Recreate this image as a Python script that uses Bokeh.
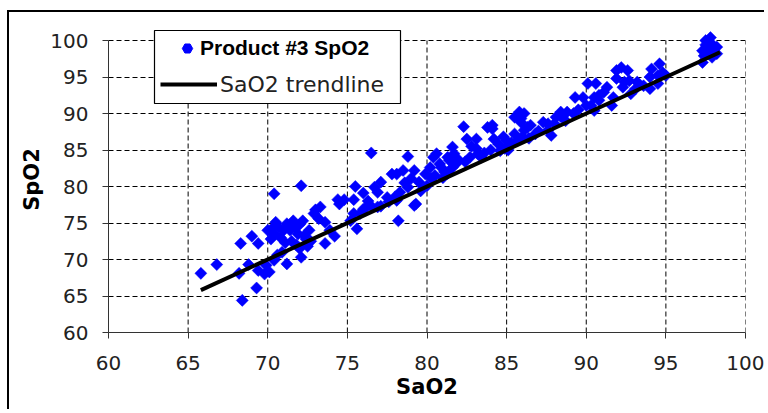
from bokeh.plotting import figure
from bokeh.models import FixedTicker, Legend, LegendItem, BoxAnnotation, Range1d
from bokeh.embed import file_html
from bokeh.resources import INLINE
import math

sao2 = [65.8, 66.8, 68.4, 68.3, 69.0, 69.4, 68.2, 68.8, 69.3, 69.4, 69.8, 69.9, 70.0, 70.1,
        70.5, 70.4, 70.6, 71.2, 71.0, 71.2, 71.6, 71.9, 72.1, 70.4, 72.1, 70.4, 70.8, 71.5,
        71.8, 72.0, 70.2, 70.9, 70.3, 71.4, 71.7, 72.0, 70.7, 71.1, 72.3,
        72.4, 72.6, 72.9, 73.3, 73.6, 73.6, 74.2, 72.5, 72.7, 73.0, 73.2, 72.2, 74.4, 74.8,
        74.5, 73.9,
        75.4, 75.2, 75.6, 75.8, 76.2, 76.9, 75.5, 76.0, 76.7, 77.1, 76.9, 76.0, 76.5, 77.1,
        75.4, 76.5, 77.6, 77.8, 77.5, 76.3,
        78.2, 79.2, 78.1, 78.8, 78.1, 78.5, 79.2, 79.0, 78.8, 78.3, 78.0, 79.5, 79.9, 79.3,
        78.6, 79.6, 80.0,
        80.2, 80.4, 80.6, 80.8, 81.1, 80.3, 81.3, 81.6, 81.7, 81.9, 81.6, 81.4, 82.0, 80.5,
        81.0, 80.9, 81.3,
        82.3, 82.5, 83.1, 82.7, 83.1, 83.2, 83.8, 82.8, 83.4, 84.1, 84.2, 84.5, 84.9, 85.1,
        84.8, 85.0, 84.1, 83.6, 84.0, 84.6, 82.4,
        85.8, 85.9, 85.5, 86.3, 85.9, 85.5, 86.1, 86.5, 86.8, 87.3, 87.6, 87.8, 86.1, 85.7,
        86.0, 86.4, 87.0, 85.3,
        88.1, 88.4, 88.8, 88.7, 89.3, 89.8, 90.0, 88.4, 88.0, 87.6, 89.2, 89.5,
        90.1, 90.6, 90.5, 90.3, 90.8, 91.1, 91.3, 91.9, 92.6, 91.9, 92.4, 92.7, 91.7, 91.6,
        92.8, 93.1, 90.8, 90.5, 92.2, 92.3,
        94.1, 94.6, 94.0, 94.5, 95.0, 94.0, 94.5, 93.2, 94.8, 93.6,
        97.5, 97.9, 98.2, 97.3, 97.4, 97.3, 97.9, 97.6, 97.8, 98.0, 97.7, 98.2, 97.5]

spo2 = [68.1, 69.3, 64.4, 72.2, 73.2, 72.2, 68.1, 69.3, 66.1, 68.5, 68.0, 69.2, 74.0, 68.3,
        75.1, 69.9, 70.6, 69.4, 74.0, 74.9, 75.3, 73.5, 70.3, 79.0, 80.1, 73.5, 73.0, 72.5,
        72.0, 71.5, 72.8, 71.0, 74.3, 74.0, 74.5, 74.8, 74.4, 72.3, 73.3,
        72.8, 74.0, 76.3, 77.2, 75.1, 72.2, 73.2, 71.8, 72.5, 76.8, 75.6, 75.3, 78.2, 78.2,
        77.6, 74.0,
        78.2, 75.3, 74.2, 76.3, 77.2, 77.2, 80.0, 79.1, 79.9, 80.6, 79.2, 76.9, 77.3, 77.3,
        76.3, 84.6, 77.9, 81.7, 78.5, 78.0,
        75.3, 77.4, 78.1, 84.1, 81.7, 82.2, 82.2, 81.1, 79.9, 79.2, 78.6, 80.6, 81.7, 77.6,
        80.5, 79.4, 80.1,
        82.6, 84.0, 84.5, 83.1, 82.0, 81.1, 84.0, 85.4, 84.5, 83.3, 82.6, 83.6, 83.6, 81.5,
        81.2, 82.6, 81.8,
        88.2, 86.5, 86.5, 84.0, 85.2, 84.5, 88.1, 85.5, 84.0, 88.4, 86.5, 85.8, 85.2, 85.0,
        86.8, 86.3, 87.9, 84.6, 85.0, 84.9, 83.4,
        90.2, 89.3, 89.5, 88.1, 88.8, 87.2, 87.7, 88.4, 87.2, 88.8, 87.7, 87.0, 90.0, 86.3,
        86.8, 86.6, 87.6, 86.0,
        89.5, 90.2, 90.2, 89.0, 92.2, 92.2, 91.1, 89.6, 88.6, 88.6, 90.0, 90.5,
        94.1, 94.1, 92.2, 91.1, 91.8, 92.9, 93.6, 95.9, 95.9, 94.8, 94.3, 94.5, 92.2, 91.1,
        92.7, 93.4, 92.5, 90.4, 96.3, 93.6,
        96.1, 96.8, 95.0, 95.2, 95.2, 93.4, 94.1, 94.3, 95.6, 93.8,
        100.0, 99.5, 99.1, 98.6, 97.9, 97.0, 97.7, 99.1, 100.4, 98.6, 98.2, 98.2, 99.4]

trend_sao2 = [65.8, 98.4]
trend_line = [65.8, 98.4]

x_ticks = [60, 65, 70, 75, 80, 85, 90, 95, 100]
y_ticks = [60, 65, 70, 75, 80, 85, 90, 95, 100]

# y range extended a little above 100 so the legend box (which sits above the
# 100 gridline in the reference) is not clipped by the frame
p = figure(width=757, height=399, x_range=Range1d(60, 100), y_range=Range1d(60, 101.92),
           output_backend="svg", toolbar_location=None,
           min_border_left=99, min_border_right=21, min_border_top=14, min_border_bottom=79)
p.styles = {"margin-left": "7px", "margin-top": "10px",
            "border-top": "2px solid black", "border-left": "2px solid black"}
p.outline_line_color = None
p.background_fill_color = "white"
p.border_fill_color = "white"

# vertical dashed gridlines limited to the 60..100 value span
p.segment(x0=x_ticks, y0=y_ticks[0], x1=x_ticks, y1=y_ticks[-1],
          line_color="black", line_width=1, line_dash="5 3", level="underlay")

pts = p.scatter(sao2, spo2, marker="square", size=8.5, angle=math.pi / 4,
                fill_color="#0000ff", line_color="#0000ff", line_width=0.5)
trend = p.line(trend_sao2, trend_line, line_width=4, line_color="black")
# hidden twin of the data series, used only for its legend symbol
proxy = p.scatter(sao2, spo2, marker="hex", fill_color="#0000ff", line_color="#0000ff",
                  visible=False)

for ax in (p.xaxis[0], p.yaxis[0]):
    ax.major_tick_in = 0
    ax.major_tick_out = 6
    ax.minor_tick_in = 0
    ax.minor_tick_out = 0
    ax.axis_line_color = "#333333"
    ax.major_tick_line_color = "#333333"
    ax.major_label_text_font = "DejaVu Sans"
    ax.major_label_text_font_size = "20px"
    ax.major_label_text_color = "#222222"
    ax.axis_label_text_font = "DejaVu Sans"
    ax.axis_label_text_font_style = "bold"
    ax.axis_label_text_font_size = "21px"
    ax.axis_label_text_color = "black"

p.xaxis.ticker = FixedTicker(ticks=x_ticks)
p.yaxis.ticker = FixedTicker(ticks=y_ticks)
p.yaxis.bounds = (y_ticks[0], y_ticks[-1])
p.xgrid.visible = False
p.ygrid.ticker = FixedTicker(ticks=y_ticks)
p.ygrid.grid_line_color = "black"
p.ygrid.grid_line_dash = "5 3"
p.ygrid.grid_line_width = 1
p.xaxis.axis_label = "SaO2"
p.yaxis.axis_label = "SpO2"
p.xaxis.major_label_standoff = 17
p.yaxis.major_label_standoff = 14
p.xaxis.axis_label_standoff = 2
p.yaxis.axis_label_standoff = 3

box = BoxAnnotation(left=143, right=389, top=16, bottom=89,
                    left_units="canvas", right_units="canvas",
                    top_units="canvas", bottom_units="canvas",
                    fill_color="white", fill_alpha=1.0,
                    line_color="black", line_width=1.2, line_alpha=1.0)
p.add_layout(box)

leg_a = Legend(items=[LegendItem(label="Product #3 SpO2", renderers=[proxy])],
               location=(66, 271), padding=0, spacing=0, margin=0,
               glyph_width=26, glyph_height=26, label_height=26, label_standoff=0,
               border_line_color=None, background_fill_alpha=0, inactive_fill_alpha=0,
               label_text_font="Liberation Sans", label_text_font_style="bold",
               label_text_font_size="21px", label_text_color="black")
leg_b = Legend(items=[LegendItem(label="SaO2 trendline", renderers=[trend])],
               location=(52, 235), padding=0, spacing=0, margin=0,
               glyph_width=57, glyph_height=26, label_height=26, label_standoff=3,
               border_line_color=None, background_fill_alpha=0,
               label_text_font="DejaVu Sans", label_text_font_style="normal",
               label_text_font_size="22px", label_text_color="#222222")
p.add_layout(leg_a, "center")
p.add_layout(leg_b, "center")

open("out.html", "w").write(file_html(p, INLINE))
